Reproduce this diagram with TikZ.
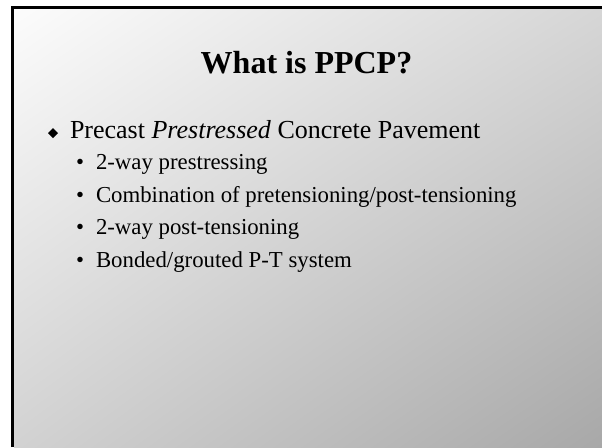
\documentclass[tikz,border=0pt]{standalone}
\usepackage{fontspec}
\setmainfont{Liberation Serif}
\usetikzlibrary{shadings}
\definecolor{bgTL}{RGB}{252,252,252}
\definecolor{bgTR}{RGB}{214,214,214}
\definecolor{bgBL}{RGB}{210,210,210}
\definecolor{bgBR}{RGB}{168,168,168}
\begin{document}
\begin{tikzpicture}[x=1pt,y=-1pt,
  txt/.style={inner sep=0pt, outer sep=0pt, anchor=base west},
  titletxt/.style={inner sep=0pt, outer sep=0pt, anchor=base, font=\fontsize{32}{38}\selectfont\bfseries},
  mainitem/.style={txt, font=\fontsize{26}{31}\selectfont},
  subitem/.style={txt, font=\fontsize{22.8}{27}\selectfont},
  subbullet/.style={inner sep=0pt, outer sep=0pt, anchor=base, font=\fontsize{22.8}{27}\selectfont}]
\useasboundingbox (0,0) rectangle (602,447);
\fill[white] (0,0) rectangle (602,447);
\shade[upper left=bgTL, upper right=bgTR, lower left=bgBL, lower right=bgBR] (14,9) rectangle (602,447);
\draw[line width=3pt, line join=miter] (12.5,447) -- (12.5,7.5) -- (602,7.5);
\node[titletxt] (title) at (306.5,73) {What is PPCP?};
\fill (53,128) -- (58,133) -- (53,138) -- (48,133) -- cycle;
\node[mainitem] (main) at (70,138) {Precast \textit{Prestressed} Concrete Pavement};
\node[subbullet] (b1) at (80,169.5) {•};
\node[subitem] (s1) at (96,169.5) {2-way prestressing};
\node[subbullet] (b2) at (80,202) {•};
\node[subitem] (s2) at (96,202) {Combination of pretensioning/post-tensioning};
\node[subbullet] (b3) at (80,234.5) {•};
\node[subitem] (s3) at (96,234.5) {2-way post-tensioning};
\node[subbullet] (b4) at (80,267) {•};
\node[subitem] (s4) at (96,267) {Bonded/grouted P-T system};
\end{tikzpicture}
\end{document}
